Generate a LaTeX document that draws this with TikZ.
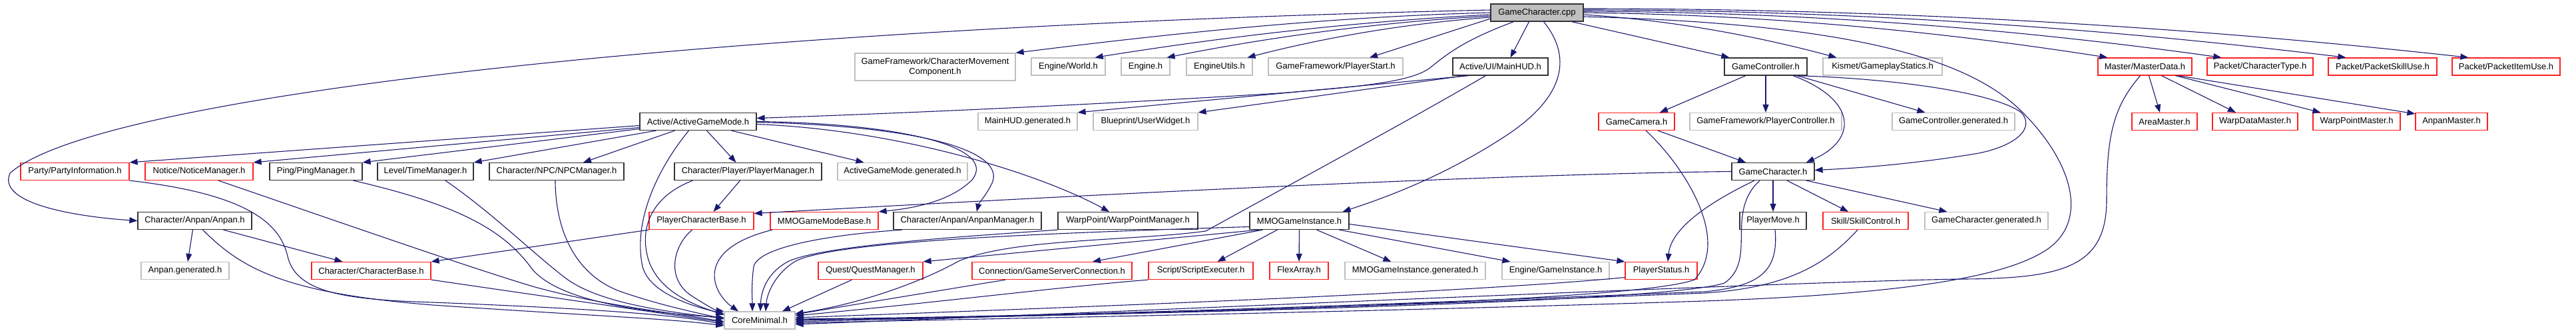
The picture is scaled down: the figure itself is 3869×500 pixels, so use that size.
\documentclass[tikz,border=0pt]{standalone}
\usepackage{fontspec}
\setmainfont{Liberation Sans}
\usetikzlibrary{arrows.meta}
\definecolor{edgeblue}{HTML}{191970}
\definecolor{extgray}{HTML}{BFBFBF}
\definecolor{trred}{HTML}{FF2020}
\begin{document}
\begin{tikzpicture}[x=1pt,y=-1pt,
  box/.style={rectangle,inner sep=0pt,minimum height=26pt,fill=white,line width=1.2pt,
    font=\fontsize{13}{15}\selectfont},
  hdr/.style={box,draw=black!80},
  ext/.style={box,draw=extgray},
  trunc/.style={box,draw=trred},
  root/.style={box,draw=black!80,fill=extgray},
  dep/.style={draw=edgeblue,line width=1.1pt,->,>={Triangle[length=12pt,width=9pt]}}]
\useasboundingbox (0,0) rectangle (3869,500);
% nodes, row by row
\node[root,minimum width=139] (cpp) at (2308.5,19) {GameCharacter.cpp};

\node[ext,minimum width=241,minimum height=41,align=center] (cmc) at (1404.5,100.5) {GameFramework/CharacterMovement\\Component.h};
\node[ext,minimum width=111] (world) at (1604.5,100) {Engine/World.h};
\node[ext,minimum width=73] (engine) at (1720.5,100) {Engine.h};
\node[ext,minimum width=99] (eutils) at (1831.5,100) {EngineUtils.h};
\node[ext,minimum width=202] (pstart) at (2006,100) {GameFramework/PlayerStart.h};
\node[hdr,minimum width=143] (mainhud) at (2253.5,100) {Active/UI/MainHUD.h};
\node[hdr,minimum width=124] (gctrl) at (2652,100) {GameController.h};
\node[ext,minimum width=179] (kismet) at (2827.5,100) {Kismet/GameplayStatics.h};
\node[trunc,minimum width=141] (master) at (3221.5,100) {Master/MasterData.h};
\node[trunc,minimum width=159] (ctype) at (3394.5,100) {Packet/CharacterType.h};
\node[trunc,minimum width=163] (skilluse) at (3578.5,100) {Packet/PacketSkillUse.h};
\node[trunc,minimum width=162] (itemuse) at (3764,100) {Packet/PacketItemUse.h};

\node[hdr,minimum width=175] (agm) at (1048.5,182.5) {Active/ActiveGameMode.h};
\node[ext,minimum width=149] (hudgen) at (1543.5,182.5) {MainHUD.generated.h};
\node[ext,minimum width=157] (widget) at (1720.5,182.5) {Blueprint/UserWidget.h};
\node[trunc,minimum width=114] (gcam) at (2458,182.5) {GameCamera.h};
\node[ext,minimum width=228] (pctrl) at (2652,182.5) {GameFramework/PlayerController.h};
\node[ext,minimum width=184] (gcgen) at (2934,182.5) {GameController.generated.h};
\node[trunc,minimum width=98] (area) at (3251,182.5) {AreaMaster.h};
\node[trunc,minimum width=128] (warpdata) at (3387,182.5) {WarpDataMaster.h};
\node[trunc,minimum width=131] (warpptm) at (3539.5,182.5) {WarpPointMaster.h};
\node[trunc,minimum width=108] (anpanm) at (3682,182.5) {AnpanMaster.h};

\node[trunc,minimum width=163] (party) at (112.5,257.5) {Party/PartyInformation.h};
\node[trunc,minimum width=162] (notice) at (299,257.5) {Notice/NoticeManager.h};
\node[hdr,minimum width=139] (ping) at (474.5,257.5) {Ping/PingManager.h};
\node[hdr,minimum width=144] (time) at (639,257.5) {Level/TimeManager.h};
\node[hdr,minimum width=202] (npc) at (836,257.5) {Character/NPC/NPCManager.h};
\node[hdr,minimum width=221] (pmgr) at (1123.5,257.5) {Character/Player/PlayerManager.h};
\node[ext,minimum width=195] (agmgen) at (1355.5,257.5) {ActiveGameMode.generated.h};
\node[hdr,minimum width=124] (gch) at (2663,257.5) {GameCharacter.h};

\node[hdr,minimum width=171] (anpan) at (292.5,331.5) {Character/Anpan/Anpan.h};
\node[trunc,minimum width=157] (pcb) at (1053.5,331.5) {PlayerCharacterBase.h};
\node[trunc,minimum width=162] (gmb) at (1238,331.5) {MMOGameModeBase.h};
\node[hdr,minimum width=222] (anpmgr) at (1453,331.5) {Character/Anpan/AnpanManager.h};
\node[hdr,minimum width=210] (wpmgr) at (1694,331.5) {WarpPoint/WarpPointManager.h};
\node[hdr,minimum width=149] (mmogi) at (1951.5,331.5) {MMOGameInstance.h};
\node[hdr,minimum width=100] (pmove) at (2663,331.5) {PlayerMove.h};
\node[trunc,minimum width=128] (skillc) at (2802,331.5) {Skill/SkillControl.h};
\node[ext,minimum width=185] (gchgen) at (2983.5,331.5) {GameCharacter.generated.h};

\node[ext,minimum width=132] (anpgen) at (278,406.5) {Anpan.generated.h};
\node[trunc,minimum width=179] (cbase) at (557.5,406.5) {Character/CharacterBase.h};
\node[trunc,minimum width=157] (quest) at (1307.5,406.5) {Quest/QuestManager.h};
\node[trunc,minimum width=240] (conn) at (1580,406.5) {Connection/GameServerConnection.h};
\node[trunc,minimum width=157] (script) at (1803.5,406.5) {Script/ScriptExecuter.h};
\node[trunc,minimum width=88] (flex) at (1951,406.5) {FlexArray.h};
\node[ext,minimum width=211] (gigen) at (2125.5,406.5) {MMOGameInstance.generated.h};
\node[ext,minimum width=161] (ginst) at (2336.5,406.5) {Engine/GameInstance.h};
\node[trunc,minimum width=108] (pstatus) at (2495,406.5) {PlayerStatus.h};

\node[ext,minimum width=106] (core) at (1141,481) {CoreMinimal.h};

% includes of the .cpp
\draw[dep] (cpp.west) .. controls (2000,25) and (1760,50) .. (cmc.north east);
\draw[dep] ([yshift=-3]cpp.west) .. controls (2040,32) and (1840,55) .. ([xshift=40]world.north);
\draw[dep] ([yshift=-5]cpp.west) .. controls (2075,33) and (1910,55) .. ([xshift=32]engine.north);
\draw[dep] ([yshift=-7]cpp.west) .. controls (2115,35) and (1995,55) .. ([xshift=42]eutils.north);
\draw[dep] ([yshift=-9]cpp.west) -- ([xshift=51]pstart.north);
\draw[dep] ([xshift=-12]cpp.south) -- ([xshift=15]mainhud.north);
\draw[dep] ([xshift=52]cpp.south) -- ([xshift=8]gctrl.north west);
\draw[dep] ([yshift=-3]cpp.east) .. controls (2505,30) and (2630,52) .. ([xshift=21]kismet.north west);
\draw[dep] (cpp.east) .. controls (2640,22) and (2900,45) .. ([xshift=15]master.north west);
\draw[dep] ([yshift=2]cpp.east) .. controls (2700,18) and (3020,42) .. ([xshift=22]ctype.north west);
\draw[dep] ([yshift=4]cpp.east) .. controls (2760,15) and (3140,40) .. ([xshift=27]skilluse.north west);
\draw[dep] ([yshift=6]cpp.east) .. controls (2820,13) and (3270,38) .. ([xshift=25]itemuse.north west);
\draw[dep] ([xshift=-35]cpp.south) .. controls (2200,60) and (2175,80) .. (2150,100)
  .. controls (2125,122) and (2050,130) .. (1920,140)
  .. controls (1600,160) and (1300,172) .. ([yshift=5]agm.east);
\draw[dep] ([yshift=4]cpp.west) .. controls (1100,40) and (150,140) .. (15,260)
  .. controls (-5,305) and (110,325) .. (anpan.west);
\draw[dep] ([xshift=10]cpp.south) .. controls (2365,90) and (2345,150) .. (2260,205)
  .. controls (2160,270) and (2070,300) .. ([xshift=-10]mmogi.north east);
\draw[dep] ([yshift=-6]cpp.east) .. controls (2750,35) and (2950,80) .. (3037,168)
  .. controls (3110,240) and (3140,330) .. (3074,375)
  .. controls (3020,410) and (2900,440) .. (2560,452)
  .. controls (2000,470) and (1500,478) .. ([yshift=-4]core.east);

% GameController.h, GameCamera.h, GameCharacter.h
\draw[dep] ([xshift=-30]gctrl.south) -- ([xshift=35]gcam.north);
\draw[dep] (gctrl) -- (pctrl);
\draw[dep] ([xshift=41]gctrl.south) .. controls (2790,150) and (2790,210) .. ([xshift=50]gch.north);
\draw[dep] ([xshift=47]gctrl.south) -- ([xshift=50]gcgen.north west);
\draw[dep] ([xshift=45]gctrl.south) .. controls (2850,118) and (3000,140) .. (3037,170)
  .. controls (3060,200) and (3010,225) .. (2960,232)
  .. controls (2880,245) and (2800,252) .. ([yshift=2]gch.east);
\draw[dep] ([xshift=32]gcam.south) -- ([xshift=-41]gch.north);
\draw[dep] ([xshift=14]gcam.south) .. controls (2530,250) and (2600,360) .. (2545,420)
  .. controls (2450,455) and (1700,470) .. ([yshift=-2]core.east);
\draw[dep] (gch.west) .. controls (2200,262) and (1500,300) .. ([yshift=11]pcb.east);
\draw[dep] (gch) -- (pmove);
\draw[dep] ([xshift=21]gch.south) -- ([xshift=-26]skillc.north);
\draw[dep] ([xshift=50]gch.south) -- ([xshift=34]gchgen.north west);
\draw[dep] ([xshift=-28]gch.south) .. controls (2575,300) and (2510,340) .. ([xshift=10]pstatus.north);
\draw[dep] ([xshift=-20]gch.south) .. controls (2590,320) and (2640,390) .. (2590,425)
  .. controls (2500,455) and (1700,472) .. (core.east);
\draw[dep] ([xshift=3]pmove.south) .. controls (2672,410) and (2640,430) .. (2560,438)
  .. controls (2000,460) and (1600,475) .. ([yshift=2]core.east);
\draw[dep] ([xshift=-12]skillc.south) .. controls (2740,400) and (2680,432) .. (2560,440)
  .. controls (2000,462) and (1600,476) .. ([yshift=1]core.east);

% MasterData.h
\draw[dep] ([xshift=6]master.south) -- ([xshift=-7]area.north);
\draw[dep] ([xshift=25]master.south) -- ([xshift=-29]warpdata.north);
\draw[dep] ([xshift=46]master.south) -- ([xshift=12]warpptm.north west);
\draw[dep] ([xshift=50]master.south) -- ([yshift=-2]anpanm.north west);
\draw[dep] ([xshift=-7]master.south) .. controls (3175,160) and (3164,200) .. (3164,300)
  .. controls (3164,400) and (3100,418) .. (2950,419)
  .. controls (2700,422) and (1650,470) .. ([yshift=-6]core.east);

% MainHUD.h
\draw[dep] ([xshift=-47]mainhud.south) -- (hudgen.north east);
\draw[dep] ([xshift=-53]mainhud.south) -- (widget.north east);
\draw[dep] ([xshift=-22]mainhud.south) .. controls (2100,190) and (1950,270) .. (1811,347)
  .. controls (1700,362) and (1520,358) .. (1440,392)
  .. controls (1390,420) and (1300,455) .. ([yshift=10]core.east);

% MMOGameInstance.h
\draw[dep] ([xshift=-60]mmogi.south) -- (quest.north east);
\draw[dep] ([xshift=-55]mmogi.south) -- ([xshift=61]conn.north);
\draw[dep] ([xshift=-33]mmogi.south) -- ([xshift=25]script.north);
\draw[dep] (mmogi) -- (flex);
\draw[dep] ([xshift=26]mmogi.south) -- ([xshift=70]gigen.north west);
\draw[dep] ([xshift=60]mmogi.south) -- ([xshift=13]ginst.north west);
\draw[dep] ([yshift=-5]mmogi.east) -- (pstatus.north west);
\draw[dep] ([yshift=-9]mmogi.west) .. controls (1500,352) and (1250,365) .. (1195,392)
  .. controls (1165,410) and (1152,440) .. ([xshift=9]core.north);
\draw[dep] ([xshift=-28]quest.south) -- ([xshift=34]core.north);
\draw[dep] ([xshift=-70]conn.south) -- ([yshift=9]core.east);
\draw[dep] (script.south west) .. controls (1600,430) and (1400,455) .. ([yshift=7]core.east);
\draw[dep] ([yshift=-10]pstatus.west) .. controls (2200,440) and (1600,462) .. ([yshift=4]core.east);

% ActiveGameMode.h
\draw[dep] ([yshift=-6]agm.west) -- (party.north east);
\draw[dep] ([yshift=-9]agm.west) -- (notice.north east);
\draw[dep] ([yshift=-11]agm.west) -- (ping.north east);
\draw[dep] ([xshift=-63]agm.south) -- (time.north east);
\draw[dep] ([xshift=-35]agm.south) -- ([xshift=40]npc.north);
\draw[dep] ([xshift=13]agm.south) -- ([xshift=-18]pmgr.north);
\draw[dep] ([xshift=50]agm.south) -- ([xshift=-58]agmgen.north);
\draw[dep] (agm.east) .. controls (1350,185) and (1500,220) .. (1460,270)
  .. controls (1430,300) and (1380,312) .. (gmb.north east);
\draw[dep] ([yshift=-1]agm.east) .. controls (1400,190) and (1510,230) .. (1490,275)
  .. controls (1480,295) and (1470,305) .. ([xshift=14]anpmgr.north);
\draw[dep] ([yshift=-4]agm.east) .. controls (1350,195) and (1560,260) .. ([xshift=-28]wpmgr.north);
\draw[dep] ([xshift=-14]agm.south) .. controls (990,250) and (950,330) .. (965,400)
  .. controls (975,440) and (1040,460) .. ([yshift=10]core.west);

% left part
\draw[dep] (party.south east) .. controls (360,290) and (420,330) .. (432,385)
  .. controls (445,440) and (520,450) .. (650,454)
  .. controls (850,462) and (1000,470) .. ([yshift=-6]core.west);
\draw[dep] ([xshift=29]notice.south) .. controls (500,330) and (700,400) .. (800,430)
  .. controls (900,458) and (1000,468) .. ([yshift=-2]core.west);
\draw[dep] ([xshift=56]ping.south) .. controls (700,310) and (760,350) .. (800,405)
  .. controls (840,450) and (950,468) .. ([yshift=4]core.west);
\draw[dep] ([xshift=30]time.south) .. controls (740,320) and (800,380) .. (850,418)
  .. controls (900,455) and (1000,468) .. ([yshift=3]core.west);
\draw[dep] ([xshift=-2]npc.south) .. controls (834,340) and (860,410) .. (930,437)
  .. controls (990,458) and (1040,468) .. ([yshift=2]core.west);
\draw[dep] ([xshift=-83]pmgr.south) .. controls (990,290) and (960,330) .. (972,383)
  .. controls (985,440) and (1050,460) .. ([yshift=8]core.west);
\draw[dep] ([xshift=-12]pmgr.south) -- ([xshift=18]pcb.north);
\draw[dep] ([xshift=-14]pcb.south) .. controls (1010,370) and (1000,420) .. (1040,445)
  .. controls (1060,458) and (1075,466) .. (core.north west);
\draw[dep] (pcb.south west) -- (cbase.north east);
\draw[dep] (cbase.south east) -- ([yshift=-3]core.west);
\draw[dep] ([xshift=-3]anpan.south) -- ([xshift=4]anpgen.north);
\draw[dep] ([xshift=43]anpan.south) -- ([xshift=-43]cbase.north);
\draw[dep] ([xshift=12]anpan.south) .. controls (360,400) and (420,440) .. (650,458)
  .. controls (900,475) and (1000,478) .. ([yshift=-8]core.west);
\draw[dep] ([xshift=-78]gmb.south) .. controls (1040,375) and (1070,440) .. ([xshift=-32]core.north);
\draw[dep] ([xshift=-98]anpmgr.south) .. controls (1250,352) and (1140,370) .. (1132,400)
  .. controls (1128,430) and (1130,450) .. ([xshift=-11]core.north);
\draw[dep] (wpmgr.south west) .. controls (1450,355) and (1240,368) .. (1185,392)
  .. controls (1150,410) and (1143,440) .. ([xshift=1]core.north);
\end{tikzpicture}
\end{document}
